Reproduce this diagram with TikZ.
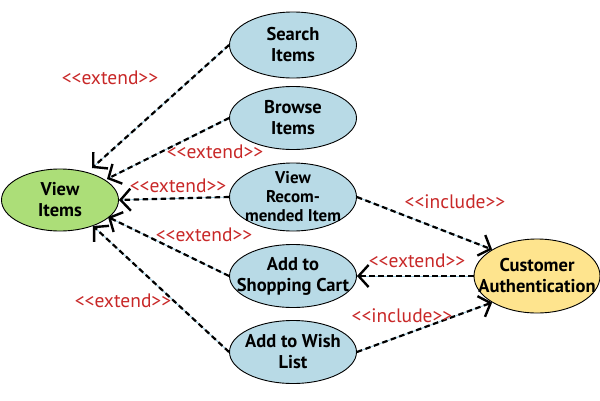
\documentclass[tikz,border=0pt]{standalone}
\usepackage{fontspec}
\setmainfont{PT Sans}
\usetikzlibrary{arrows.meta,shapes.geometric}
\definecolor{ucblue}{RGB}{184,218,230}
\definecolor{ucgreen}{RGB}{172,222,120}
\definecolor{ucyellow}{RGB}{254,228,142}
\definecolor{lblred}{RGB}{200,40,40}
\definecolor{linebl}{RGB}{150,200,222}
\newcommand{\stOpen}{{<}{<}}
\newcommand{\stClose}{{>}{>}}
\tikzset{
  uc/.style={ellipse, draw=black, line width=0.9pt, inner sep=0pt},
  blueuc/.style={uc, fill=ucblue, minimum width=127pt, minimum height=63pt},
  uctext/.style={font=\fontsize{18.5}{21}\selectfont\bfseries, align=center, inner sep=0pt},
  lbl/.style={text=lblred, font=\fontsize{19.5}{20}\selectfont},
  dep/.style={draw=linebl, line width=0.8pt, postaction={draw=black, line width=2.2pt, dash pattern=on 5.5pt off 3.5pt, -{Straight Barb[length=10pt,width=22pt,line width=2.4pt]}}},
}
\begin{document}
\begin{tikzpicture}[x=1pt,y=-1pt]
\useasboundingbox (0,0) rectangle (600,400);
\node[uc, fill=ucgreen, minimum width=117pt, minimum height=62pt] (vi) at (60,200) {};
\node[blueuc, minimum height=66pt] (si) at (293,45) {};
\node[blueuc] (bi) at (293,118) {};
\node[blueuc, minimum height=68pt] (vr) at (293,197) {};
\node[blueuc] (sc) at (293,276) {};
\node[blueuc] (wl) at (293,352) {};
\node[uc, fill=ucyellow, minimum width=126pt, minimum height=74pt] (ca) at (537,276) {};

\node[uctext] (tvi) at (vi) {View\\Items};
\node[uctext] (tsi) at (si) {Search\\Items};
\node[uctext] (tbi) at (bi) {Browse\\Items};
\node[uctext, font=\fontsize{17}{19}\selectfont\bfseries] (tvr) at (vr) {View\\Recom-\\mended Item};
\node[uctext] (tsc) at (sc) {Add to\\Shopping Cart};
\node[uctext] (twl) at (wl) {Add to Wish\\List};
\node[uctext] (tca) at (537,276) {Customer\\Authentication};

\coordinate (t1) at (92,168);
\coordinate (t2) at (107,179);
\coordinate (t4) at (108,217);
\coordinate (t5) at (93,226);
\draw[dep] (si.west) -- (t1);
\draw[dep] (bi.west) -- (t2);
\draw[dep] (vr.west) -- (vi.east);
\draw[dep] (sc.west) -- (t4);
\draw[dep] (wl.west) -- (t5);
\draw[dep] (vr.east) -- (ca.north west);
\draw[dep] (ca.west) -- (sc.east);
\draw[dep] (wl.east) -- (ca.south west);

\node[lbl] (l1) at (110,78) {\stOpen extend\stClose};
\node[lbl] (l2) at (215,152) {\stOpen extend\stClose};
\node[lbl] (l3) at (178,186) {\stOpen extend\stClose};
\node[lbl] (l4) at (204,235) {\stOpen extend\stClose};
\node[lbl] (l5) at (123,301) {\stOpen extend\stClose};
\node[lbl] (l6) at (455,202) {\stOpen include\stClose};
\node[lbl] (l7) at (417,261) {\stOpen extend\stClose};
\node[lbl] (l8) at (402,316) {\stOpen include\stClose};
\end{tikzpicture}
\end{document}
